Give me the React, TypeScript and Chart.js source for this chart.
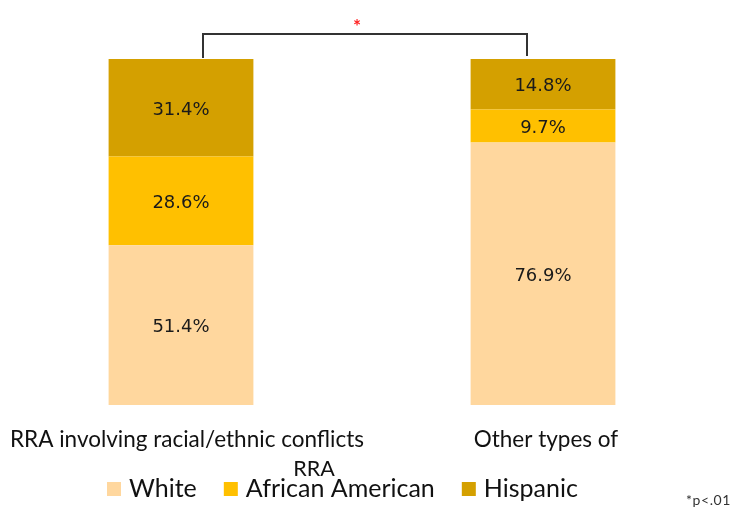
import { useEffect, useRef } from "react";
import { Chart, registerables } from "chart.js";

Chart.register(...registerables);

// Racial/ethnic composition of each RRA group (percent)
const categories = ["RRA involving racial/ethnic conflicts", "Other types of RRA"];
const seriesNames = ["White", "African American", "Hispanic"];
const white = [51.4, 76.9];
const africanAmerican = [28.6, 9.7];
const hispanic = [31.4, 14.8];
const seriesColors = ["#FFD79E", "#FFC000", "#D4A000"];
const significanceMark = "*";
const footnote = "*p<.01";

const seriesValues = [white, africanAmerican, hispanic];

// Each bar is drawn as its share of the category total, so both columns fill the same height.
const totals = categories.map((_, i) => seriesValues.reduce((s, arr) => s + arr[i], 0));
const shares = seriesValues.map((arr) => arr.map((v, i) => (v / totals[i]) * 100));

const TEXT_FONT = "Lato, 'Noto Sans', sans-serif";
const LABEL_FONT = "'DejaVu Sans', sans-serif";

const overlayPlugin = {
  id: "overlay",
  afterDatasetsDraw(chart: any) {
    const ctx = chart.ctx;
    ctx.save();
    ctx.fillStyle = "#1a1a1a";
    ctx.font = `18px ${LABEL_FONT}`;
    ctx.textAlign = "center";
    ctx.textBaseline = "middle";
    chart.data.datasets.forEach((_: any, di: number) => {
      const meta = chart.getDatasetMeta(di);
      meta.data.forEach((bar: any, i: number) => {
        const { x, y, base } = bar.getProps(["x", "y", "base"], true);
        ctx.fillText(`${seriesValues[di][i].toFixed(1)}%`, x, (y + base) / 2 + 2.5);
      });
    });
    ctx.restore();
  },
  afterDraw(chart: any) {
    const ctx = chart.ctx;
    const xs = chart.scales.x;
    const area = chart.chartArea;
    const x0 = xs.getPixelForValue(0);
    const x1 = xs.getPixelForValue(1);
    ctx.save();

    // significance bracket between the two columns
    const bl = x0 + 22;
    const br = x1 - 16;
    const by = 34;
    ctx.strokeStyle = "#333333";
    ctx.lineWidth = 2;
    ctx.beginPath();
    ctx.moveTo(bl, area.top - 1);
    ctx.lineTo(bl, by);
    ctx.lineTo(br, by);
    ctx.lineTo(br, area.top - 3);
    ctx.stroke();

    ctx.fillStyle = "#FF2020";
    ctx.font = `bold 19px ${TEXT_FONT}`;
    ctx.textAlign = "center";
    ctx.textBaseline = "alphabetic";
    ctx.fillText(significanceMark, (bl + br) / 2 - 8, 33);

    // category labels
    ctx.fillStyle = "#111111";
    ctx.font = `22.5px ${TEXT_FONT}`;
    ctx.textBaseline = "alphabetic";
    ctx.fillText(categories[0], x0 + 6, 447);
    ctx.fillText("Other types of", x1 + 3, 447);
    ctx.font = `21.5px ${TEXT_FONT}`;
    ctx.fillText("RRA", 314, 476);

    // legend
    ctx.font = `25px ${TEXT_FONT}`;
    ctx.textAlign = "left";
    ctx.textBaseline = "middle";
    let lx = 107;
    const ly = 489;
    chart.data.datasets.forEach((ds: any) => {
      ctx.fillStyle = ds.backgroundColor;
      ctx.fillRect(lx, ly - 7, 14, 14);
      lx += 22;
      ctx.fillStyle = "#111111";
      ctx.fillText(ds.label, lx, ly);
      lx += ctx.measureText(ds.label).width + 27;
    });

    // footnote
    ctx.font = `14px ${TEXT_FONT}`;
    (ctx as any).letterSpacing = "0.6px";
    ctx.textAlign = "right";
    ctx.textBaseline = "alphabetic";
    ctx.fillStyle = "#333333";
    ctx.fillText(footnote, 731, 505);
    (ctx as any).letterSpacing = "0px";

    ctx.restore();
  },
};

export default function App() {
  const canvasRef = useRef<HTMLCanvasElement | null>(null);

  useEffect(() => {
    document.body.style.margin = "0";
    const canvas = canvasRef.current;
    if (!canvas) return;
    const chart = new Chart(canvas, {
      type: "bar",
      data: {
        labels: categories,
        datasets: seriesNames.map((name, i) => ({
          label: name,
          data: shares[i],
          backgroundColor: seriesColors[i],
          borderWidth: 0,
          barPercentage: 0.4,
          categoryPercentage: 1,
        })),
      },
      options: {
        responsive: false,
        animation: false,
        devicePixelRatio: 1,
        layout: { padding: { top: 59, bottom: 104, left: 0, right: 8 } },
        plugins: {
          legend: { display: false },
          tooltip: { enabled: false },
        },
        scales: {
          x: { stacked: true, display: false },
          y: { stacked: true, display: false, min: 0, max: 100 },
        },
      },
      plugins: [overlayPlugin],
    });
    return () => chart.destroy();
  }, []);

  return (
    <div style={{ width: 732, height: 509, background: "#ffffff" }}>
      <canvas ref={canvasRef} width={732} height={509} />
    </div>
  );
}
